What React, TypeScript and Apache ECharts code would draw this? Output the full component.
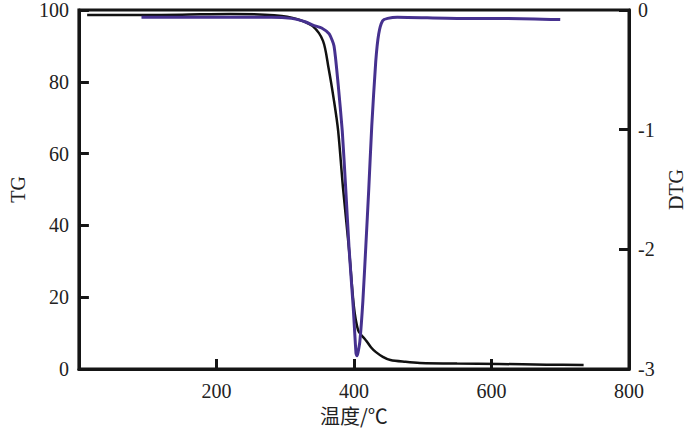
import React, { useEffect, useRef } from "react";
import * as echarts from "echarts";

const tgTemp = [12, 90, 150, 220, 270, 295, 320, 340, 355, 363, 371, 377, 384, 393, 400, 406, 411, 417, 425, 432, 442, 453, 475, 496, 550, 611, 680, 734];
const tgValue = [98.6, 98.6, 98.7, 98.9, 98.7, 98.3, 97.3, 95.5, 91.4, 83.9, 74.7, 66.4, 50.6, 33.0, 17.2, 10.8, 9.4, 8.1, 6.0, 4.7, 3.4, 2.5, 2.0, 1.7, 1.5, 1.4, 1.2, 1.1];

const dtgTemp = [91, 150, 220, 280, 309, 330, 342, 353, 364, 371, 377, 383, 388, 393, 399, 403, 404.5, 406, 408.6, 413, 417.3, 421.6, 425.9, 431.7, 436, 441.7, 449, 463, 550, 620, 700];
const dtgValue = [-0.06, -0.06, -0.06, -0.06, -0.07, -0.1, -0.13, -0.15, -0.2, -0.3, -0.62, -1.01, -1.49, -2.0, -2.49, -2.87, -2.89, -2.86, -2.77, -2.43, -1.97, -1.49, -0.97, -0.43, -0.2, -0.09, -0.07, -0.06, -0.07, -0.07, -0.08];

const xTicks = [0, 200, 400, 600, 800];
const tgTicks = [0, 20, 40, 60, 80, 100];
const dtgTicks = [-3, -2, -1, 0];

const FONT = "Liberation Serif, Times New Roman, serif";
const INK = "#151515";

export default function App() {
  const ref = useRef<HTMLDivElement>(null);
  useEffect(() => {
    if (!ref.current) return;
    const chart = echarts.init(ref.current, null, { renderer: "svg" });
    const axisCommon = {
      axisLine: { show: true, lineStyle: { color: INK, width: 3 } },
      axisTick: { show: true, inside: true, length: 10, lineStyle: { color: INK, width: 3 } },
      splitLine: { show: false },
      axisLabel: { color: "#222", fontSize: 20, fontFamily: FONT },
      nameTextStyle: { color: "#222", fontSize: 20, fontFamily: FONT },
    };
    chart.setOption({
      animation: false,
      backgroundColor: "#fff",
      textStyle: { fontFamily: FONT },
      grid: {
        left: 75,
        right: 71,
        top: 9,
        bottom: 75,
        show: true,
        borderColor: INK,
        borderWidth: 3,
        backgroundColor: "transparent",
      },
      xAxis: {
        type: "value",
        min: xTicks[0],
        max: xTicks[xTicks.length - 1],
        interval: xTicks[1] - xTicks[0],
        name: "温度/℃",
        nameLocation: "middle",
        nameGap: 29,
        ...axisCommon,
        axisLabel: {
          ...axisCommon.axisLabel,
          margin: 12,
          formatter: (v: number) => (v === 0 ? "" : String(v)),
        },
        nameTextStyle: { ...axisCommon.nameTextStyle, fontFamily: "Noto Sans CJK SC, " + FONT },
      },
      yAxis: [
        {
          type: "value",
          min: tgTicks[0],
          max: tgTicks[tgTicks.length - 1],
          interval: tgTicks[1] - tgTicks[0],
          name: "TG",
          nameLocation: "middle",
          nameRotate: 90,
          nameGap: 32,
          ...axisCommon,
          axisLabel: { ...axisCommon.axisLabel, margin: 10 },
        },
        {
          type: "value",
          position: "right",
          min: dtgTicks[0],
          max: dtgTicks[dtgTicks.length - 1],
          interval: dtgTicks[1] - dtgTicks[0],
          name: "DTG",
          nameLocation: "middle",
          nameRotate: 90,
          nameGap: 28,
          ...axisCommon,
          axisLabel: { ...axisCommon.axisLabel, margin: 9 },
        },
      ],
      series: [
        {
          type: "line",
          name: "TG",
          yAxisIndex: 0,
          data: tgTemp.map((t, i) => [t, tgValue[i]]),
          showSymbol: false,
          smooth: 0.3,
          lineStyle: { color: "#111", width: 2.5 },
          z: 2,
        },
        {
          type: "line",
          name: "DTG",
          yAxisIndex: 1,
          data: dtgTemp.map((t, i) => [t, dtgValue[i]]),
          showSymbol: false,
          smooth: 0.2,
          lineStyle: { color: "#46318f", width: 3 },
          z: 3,
        },
      ],
    });
    return () => chart.dispose();
  }, []);
  return (
    <div
      ref={ref}
      style={{ position: "absolute", left: 0, top: 0, width: 700, height: 444 }}
    />
  );
}
